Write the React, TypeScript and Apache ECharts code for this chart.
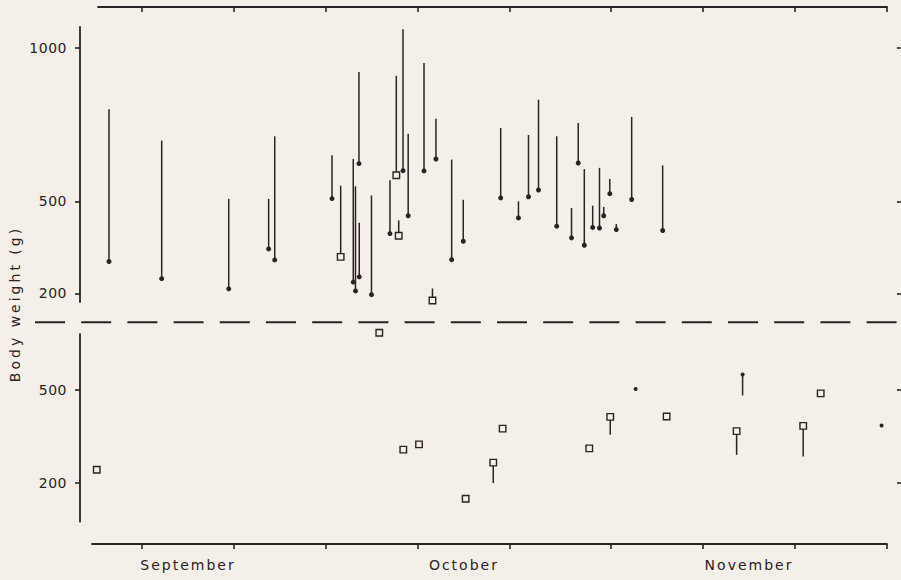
import React, { useEffect, useRef } from 'react';
import * as echarts from 'echarts';

const INK = '#2b2323';
const PAPER = '#f4efe9';
const FONT = '"DejaVu Sans", "Noto Sans", sans-serif';

// x values are days counted from 1 September (Sep 11 = 10, Oct 1 = 30, Nov 1 = 61, Dec 1 = 91)
const xTickDays = [10, 20, 30, 40, 50, 61, 71, 81, 91];
const monthLabelDays = [15, 45, 76];
const monthNames = ['September', 'October', 'November'];
const topTickValues = [200, 500, 1000];
const bottomTickValues = [200, 500];
const yTitle = 'Body weight (g)';

// upper panel: filled dot at the low value, line up to the high value
const topDotDays = [6.41, 12.14, 19.43, 23.77, 24.43, 30.66, 32.97, 33.21, 33.59, 33.62, 34.95, 36.96, 38.38, 38.94, 40.66, 41.96, 43.67, 44.93, 49.0, 50.93, 52.02, 53.11, 55.09, 56.7, 57.43, 58.09, 59.0, 59.74, 60.2, 60.86, 61.57, 63.24, 66.61];
const topDotLow = [304, 248, 215, 345, 309, 509, 237, 208, 623, 254, 196, 395, 600, 453, 599, 638, 310, 370, 511, 446, 515, 537, 419, 381, 625, 357, 415, 413, 453, 525, 408, 506, 405];
const topDotHigh = [800, 698, 508, 508, 712, 650, 638, 549, 921, 430, 519, 569, 1061, 720, 951, 769, 636, 505, 739, 500, 716, 831, 712, 478, 755, 605, 486, 609, 482, 573, 426, 775, 617];

// upper panel: open square at the low value, line up to the high value
const topSquareDays = [31.6, 37.65, 37.91, 41.58];
const topSquareLow = [319, 585, 388, 177];
const topSquareHigh = [551, 909, 438, 216];

// lower panel: open squares, some with a line down to a lower value
const bottomSquareDays = [5.08, 35.8, 38.41, 40.12, 45.19, 48.19, 49.21, 58.63, 60.91, 67.04, 74.65, 81.89, 83.79];
const bottomSquareValue = [242, 685, 307, 324, 148, 265, 375, 311, 413, 414, 367, 384, 489];
const bottomSquareStemLow: (number | null)[] = [null, null, null, null, null, 199, null, null, 355, null, 290, 285, null];

// lower panel: small filled dots
const bottomDotDays = [63.67, 75.3, 90.41];
const bottomDotValue = [503, 550, 385];
const bottomDotStemLow: (number | null)[] = [null, 482, null];

const stemRender = (params: any, api: any) => {
  const x = api.value(0);
  const p1 = api.coord([x, api.value(1)]);
  const p2 = api.coord([x, api.value(2)]);
  return {
    type: 'line',
    shape: { x1: p1[0], y1: p1[1], x2: p2[0], y2: p2[1] },
    style: { stroke: INK, lineWidth: 1.5 },
  };
};

export default function App() {
  const ref = useRef<HTMLDivElement>(null);

  useEffect(() => {
    document.body.style.margin = '0';
    document.body.style.background = PAPER;
    const el = ref.current!;
    const chart = echarts.init(el, null, { renderer: 'svg' });

    const topStems: number[][] = [];
    topDotDays.forEach((d, i) => topStems.push([d, topDotLow[i], topDotHigh[i]]));
    topSquareDays.forEach((d, i) => topStems.push([d, topSquareLow[i], topSquareHigh[i]]));

    const bottomStems: number[][] = [];
    bottomSquareDays.forEach((d, i) => {
      const lo = bottomSquareStemLow[i];
      if (lo !== null) bottomStems.push([d, lo, bottomSquareValue[i]]);
    });
    bottomDotDays.forEach((d, i) => {
      const lo = bottomDotStemLow[i];
      if (lo !== null) bottomStems.push([d, lo, bottomDotValue[i]]);
    });

    const axisLineStyle = { color: INK, width: 1.8 };
    const tickLineStyle = { color: INK, width: 1.6 };
    const plainNumber = (v: number) => String(Math.round(v));

    const option: any = {
      animation: false,
      backgroundColor: PAPER,
      grid: [
        { left: 98, right: 14, top: 27, height: 275 },
        { left: 92, right: 14, top: 334, height: 187.7 },
      ],
      xAxis: [
        {
          gridIndex: 0, type: 'value', min: 5.216, max: 91, position: 'top', offset: 20,
          axisLine: { show: true, lineStyle: axisLineStyle },
          axisTick: { show: true, inside: true, length: 5, customValues: xTickDays, lineStyle: tickLineStyle },
          axisLabel: { show: false },
          splitLine: { show: false },
        },
        {
          gridIndex: 1, type: 'value', min: 4.564, max: 91, position: 'bottom', offset: 22.3,
          axisLine: { show: true, lineStyle: axisLineStyle },
          axisTick: { show: true, length: 5, customValues: xTickDays, lineStyle: tickLineStyle },
          axisLabel: {
            customValues: monthLabelDays,
            formatter: (v: number) => monthNames[monthLabelDays.indexOf(v)] ?? '',
            color: INK, fontFamily: FONT, fontSize: 14, margin: 14,
          },
          splitLine: { show: false },
        },
      ],
      yAxis: [
        {
          gridIndex: 0, type: 'value', min: 172, max: 1068, position: 'left', offset: 18,
          axisLine: { show: true, lineStyle: axisLineStyle },
          axisTick: { show: true, length: 5, customValues: topTickValues, lineStyle: tickLineStyle },
          axisLabel: { customValues: topTickValues, formatter: plainNumber, color: INK, fontFamily: FONT, fontSize: 14, margin: 13 },
          splitLine: { show: false },
        },
        {
          gridIndex: 0, type: 'value', min: 172, max: 1068, position: 'right', offset: 14,
          axisLine: { show: false },
          axisTick: { show: true, inside: true, length: 4, customValues: topTickValues, lineStyle: tickLineStyle },
          axisLabel: { show: false },
          splitLine: { show: false },
        },
        {
          gridIndex: 1, type: 'value', min: 74, max: 681, position: 'left', offset: 12,
          axisLine: { show: true, lineStyle: axisLineStyle },
          axisTick: { show: true, length: 5, customValues: bottomTickValues, lineStyle: tickLineStyle },
          axisLabel: { customValues: bottomTickValues, formatter: plainNumber, color: INK, fontFamily: FONT, fontSize: 14, margin: 13 },
          splitLine: { show: false },
        },
        {
          gridIndex: 1, type: 'value', min: 74, max: 681, position: 'right', offset: 14,
          axisLine: { show: false },
          axisTick: { show: true, inside: true, length: 4, customValues: bottomTickValues, lineStyle: tickLineStyle },
          axisLabel: { show: false },
          splitLine: { show: false },
        },
      ],
      graphic: [
        {
          type: 'line', silent: true,
          shape: { x1: 35, y1: 322.3, x2: 901, y2: 322.3 },
          style: { stroke: INK, lineWidth: 2, lineDash: [30, 16.2] },
        },
        {
          type: 'text', x: 15, y: 304, rotation: Math.PI / 2, silent: true,
          style: { text: yTitle, fill: INK, font: `14px ${FONT}`, align: 'center', verticalAlign: 'middle' },
        },
      ],
      series: [
        {
          type: 'custom', xAxisIndex: 0, yAxisIndex: 0, silent: true,
          encode: { x: 0, y: [1, 2] }, renderItem: stemRender, data: topStems, z: 2,
        },
        {
          type: 'scatter', xAxisIndex: 0, yAxisIndex: 0, silent: true, clip: false,
          symbol: 'circle', symbolSize: 5, itemStyle: { color: INK, opacity: 1 },
          data: topDotDays.map((d, i) => [d, topDotLow[i]]), z: 3,
        },
        {
          type: 'scatter', xAxisIndex: 0, yAxisIndex: 0, silent: true, clip: false,
          symbol: 'rect', symbolSize: 6.5, itemStyle: { color: PAPER, borderColor: INK, borderWidth: 1.4, opacity: 1 },
          data: topSquareDays.map((d, i) => [d, topSquareLow[i]]), z: 4,
        },
        {
          type: 'custom', xAxisIndex: 1, yAxisIndex: 2, silent: true,
          encode: { x: 0, y: [1, 2] }, renderItem: stemRender, data: bottomStems, z: 2,
        },
        {
          type: 'scatter', xAxisIndex: 1, yAxisIndex: 2, silent: true, clip: false,
          symbol: 'rect', symbolSize: 6.5, itemStyle: { color: PAPER, borderColor: INK, borderWidth: 1.4, opacity: 1 },
          data: bottomSquareDays.map((d, i) => [d, bottomSquareValue[i]]), z: 4,
        },
        {
          type: 'scatter', xAxisIndex: 1, yAxisIndex: 2, silent: true, clip: false,
          symbol: 'circle', symbolSize: 4, itemStyle: { color: INK, opacity: 1 },
          data: bottomDotDays.map((d, i) => [d, bottomDotValue[i]]), z: 3,
        },
      ],
    };

    const applySpacing = () => {
      el.querySelectorAll('text').forEach((t) => {
        const s = (t.textContent || '').trim();
        let ls = '0.5px';
        if (monthNames.includes(s)) ls = '2px';
        else if (s === yTitle) ls = '3px';
        (t as SVGTextElement).style.letterSpacing = ls;
      });
    };
    chart.on('finished', applySpacing);
    chart.setOption(option);
    applySpacing();

    return () => {
      chart.dispose();
    };
  }, []);

  return (
    <div
      ref={ref}
      style={{ position: 'absolute', left: 0, top: 0, width: 901, height: 580, background: PAPER }}
    />
  );
}
